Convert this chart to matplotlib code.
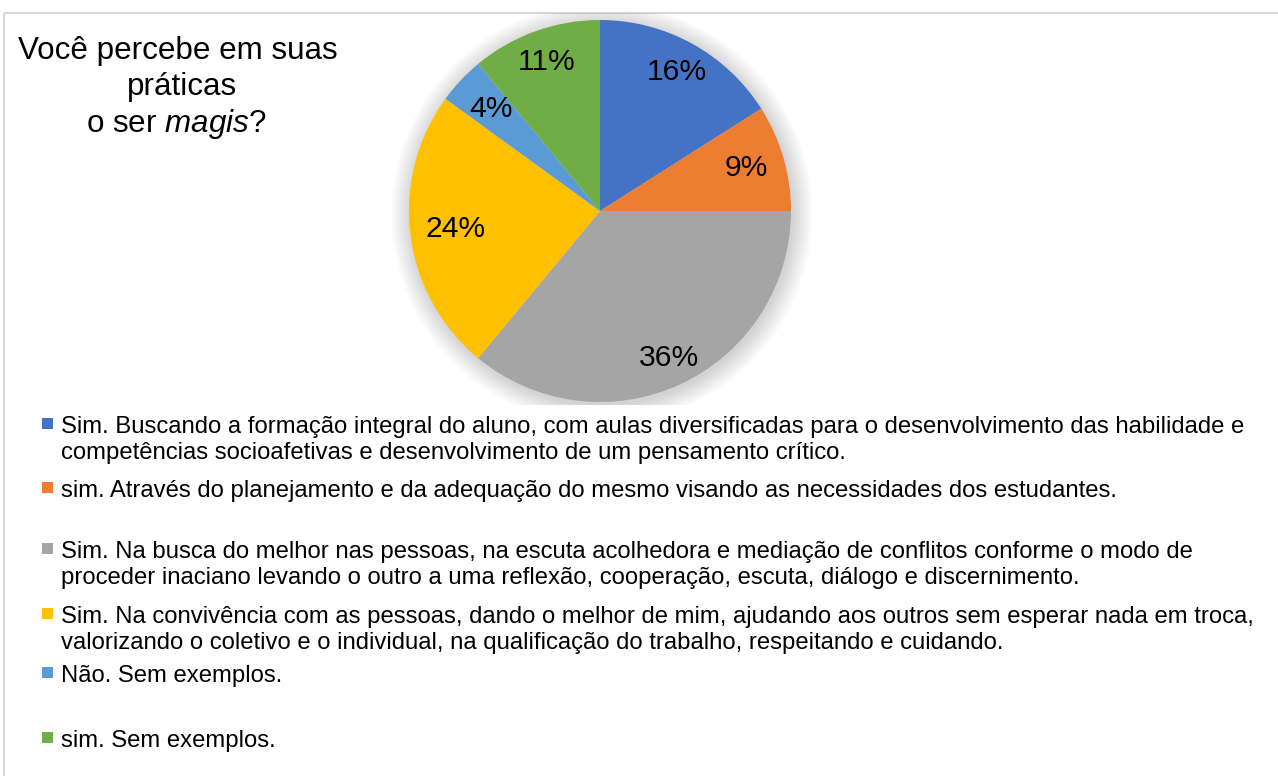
import matplotlib
matplotlib.use("Agg")
import numpy as np
import matplotlib.pyplot as plt
from matplotlib.patches import Circle, Rectangle

plt.rcParams['font.family'] = ['Liberation Sans', 'DejaVu Sans']
plt.rcParams['mathtext.fontset'] = 'custom'
plt.rcParams['mathtext.rm'] = 'Liberation Sans'
plt.rcParams['mathtext.it'] = 'Liberation Sans:italic'

# Data
values = [16, 9, 36, 24, 4, 11]
colors = ['#4472C4', '#ED7D31', '#A5A5A5', '#FFC000', '#5B9BD5', '#70AD47']
legend_lines = [
    ["Sim. Buscando a formação integral do aluno, com aulas diversificadas para o desenvolvimento das habilidade e",
     "competências socioafetivas e desenvolvimento de um pensamento crítico."],
    ["sim. Através do planejamento e da adequação do mesmo visando as necessidades dos estudantes."],
    ["Sim. Na busca do melhor nas pessoas, na escuta acolhedora e mediação de conflitos conforme o modo de",
     "proceder inaciano levando o outro a uma reflexão, cooperação, escuta, diálogo e discernimento."],
    ["Sim. Na convivência com as pessoas, dando o melhor de mim, ajudando aos outros sem esperar nada em troca,",
     "valorizando o coletivo e o individual, na qualificação do trabalho, respeitando e cuidando."],
    ["Não. Sem exemplos."],
    ["sim. Sem exemplos."],
]
legend_baselines = [433, 497, 558, 623, 682, 747]
label_dist = [0.83, 0.80, 0.85, 0.76, 0.78, 0.83]

W, H = 1278, 776
fig = plt.figure(figsize=(W / 100, H / 100), dpi=100)

# overlay axes in pixel coordinates for title, legend and border
bg = fig.add_axes([0, 0, 1, 1])
bg.set_xlim(0, W)
bg.set_ylim(H, 0)
bg.axis('off')
bg.add_patch(Rectangle((4, 13), W + 10, H, fill=False, edgecolor='#D9D9D9', lw=1.5))

bg.text(178, 59, "Você percebe em suas", fontsize=22.6, ha='center', va='baseline')
bg.text(182, 95, "práticas", fontsize=22.6, ha='center', va='baseline')
bg.text(176, 132, r"o ser $\it{magis}$?", fontsize=22.6, ha='center', va='baseline')

for lines, base, col in zip(legend_lines, legend_baselines, colors):
    bg.add_patch(Rectangle((42, base - 15), 11, 11, facecolor=col, edgecolor='none'))
    for j, line in enumerate(lines):
        bg.text(61, base + 26 * j, line, fontsize=17.2, ha='left', va='baseline', color='#000000')

# pie axes: center (600, 211) px, radius 191 px
cx, cy, R = 600, 211, 191
x0, x1, y0, y1 = 380, 820, 13, 405
ax = fig.add_axes([x0 / W, 1 - y1 / H, (x1 - x0) / W, (y1 - y0) / H])

# soft shadow
for i in range(22):
    ax.add_patch(Circle((0.01, -0.015), 1 + 0.005 * i, facecolor='black', alpha=0.007, edgecolor='none'))

wedges, texts, autotexts = ax.pie(values, colors=colors, startangle=90, counterclock=False,
                                  autopct='%1.0f%%', pctdistance=0.8,
                                  textprops={'fontsize': 21.6, 'color': 'black'},
                                  wedgeprops={'linewidth': 0})

for w, t, d in zip(wedges, autotexts, label_dist):
    ang = np.deg2rad((w.theta1 + w.theta2) / 2)
    t.set_position((d * np.cos(ang), d * np.sin(ang)))

ax.set_aspect('auto')
ax.set_xlim((x0 - cx) / R, (x1 - cx) / R)
ax.set_ylim((cy - y1) / R, (cy - y0) / R)
ax.axis('off')

fig.savefig("out.png", dpi=100)
